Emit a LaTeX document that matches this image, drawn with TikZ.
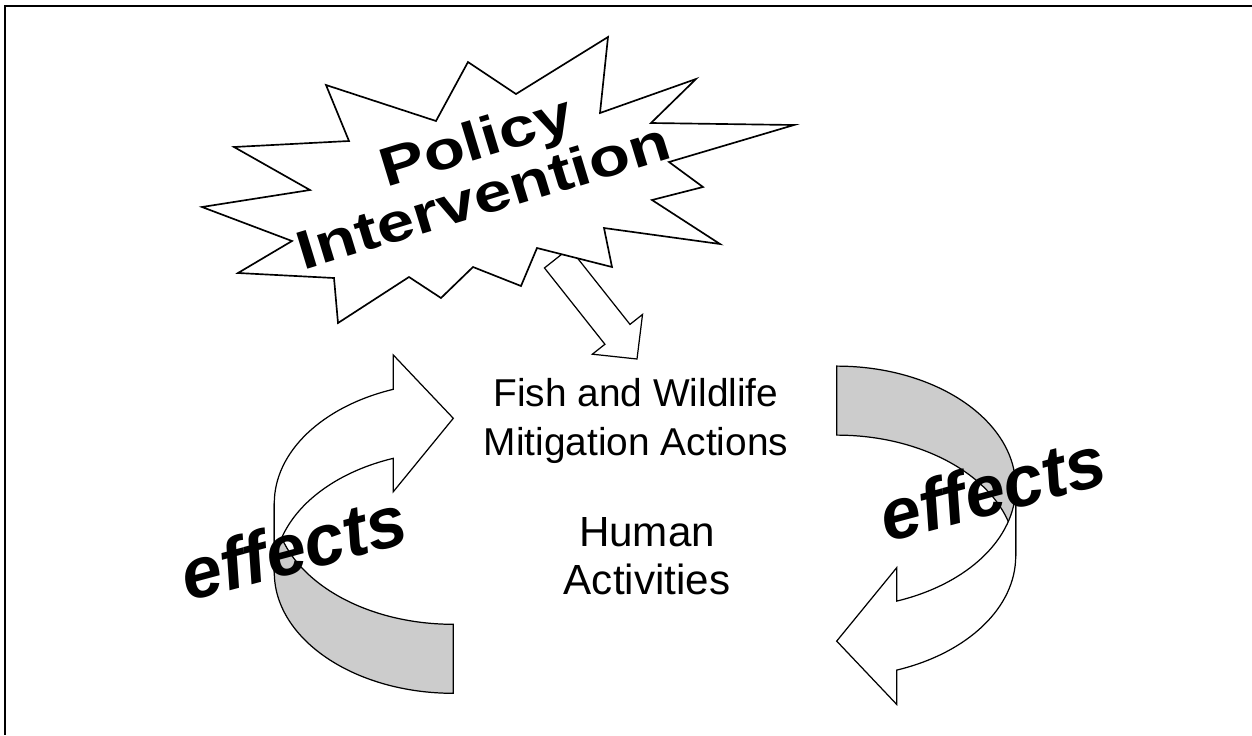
\documentclass[tikz,border=0pt]{standalone}
\usepackage{fontspec}
\setmainfont{Liberation Sans}
\usepackage{tikz}
\usetikzlibrary{calc}
\definecolor{PVBack}{HTML}{CCCCCC}
\definecolor{PVLine}{HTML}{000000}
\tikzset{
  pvFrame/.style={draw=PVLine, line width=1.1pt},
  pvBurst/.style={draw=PVLine, fill=white, line width=0.95pt, line join=miter},
  pvHollow/.style={draw=PVLine, fill=white, line width=0.7pt, line join=miter},
  pvBack/.style={draw=PVLine, fill=PVBack, line width=0.7pt},
  pvFront/.style={draw=PVLine, fill=white, line width=0.7pt, line join=miter},
  pvPolicy/.style={align=center, inner sep=0pt, font=\fontsize{31}{31.3}\selectfont\bfseries},
  pvLabel/.style={align=center, inner sep=0pt, font=\fontsize{#1}{27.4}\selectfont},
  pvLabel/.default=22.1,
  pvEffects/.style={anchor=base, inner sep=0pt, font=\fontsize{41}{43}\selectfont\bfseries\itshape},
  pvCurved/.pic={
    \draw[pvBack] (0,121) arc[start angle=90, end angle=180, x radius=179, y radius=121]
      -- (-179,69) arc[start angle=180, end angle=90, x radius=179, y radius=121] -- cycle;
    \draw[pvFront] (-60,-114) arc[start angle=250.42, end angle=180, x radius=179, y radius=121]
      -- (-179,69) arc[start angle=180, end angle=250.42, x radius=179, y radius=121]
      -- (-60,-11.6) -- (0,-85) -- (-60,-148.3) -- cycle;
  }
}

\begin{document}
\begin{tikzpicture}[x=0.02cm, y=-0.02cm]
  \useasboundingbox (0,0) rectangle (1252,735);
  \draw[pvFrame] (1252,6) -- (5,6) -- (5,735);

  \coordinate (arrtail) at (557,258);
  \coordinate (arrtip) at (637,359);
  \coordinate (arrhead) at ($(arrtip)!0.63cm!(arrtail)$);
  \draw[pvHollow] ($(arrtail)!0.32cm!90:(arrtip)$) -- ($(arrhead)!0.32cm!90:(arrtip)$)
    -- ($(arrhead)!0.64cm!90:(arrtip)$) -- (arrtip) -- ($(arrhead)!0.64cm!-90:(arrtip)$)
    -- ($(arrhead)!0.32cm!-90:(arrtip)$) -- ($(arrtail)!0.32cm!-90:(arrtip)$) -- cycle;

  \draw[pvBurst] (326,85) -- (436,121) -- (468,62) -- (516,94) -- (608,37) -- (600,113)
    -- (696,79) -- (651,123) -- (794,125) -- (669,162) -- (703,187) -- (652,200)
    -- (720,244) -- (604,228) -- (612,267) -- (537,248) -- (521,286) -- (473,267)
    -- (441,298) -- (409,277) -- (338,323) -- (334,278) -- (238,273) -- (292,241)
    -- (202,207) -- (310,190) -- (234,147) -- (349,141) -- cycle;
  \node[pvPolicy, rotate=17, xscale=1.24] (policy) at (475,169)
    {\hspace*{0.3cm}Policy\\Intervention};

  \node[pvLabel] (mitig) at (636,421) {Fish and Wildlife\\Mitigation Actions};
  \node[pvLabel=24] (human) at (647,556) {Human\\Activities};

  \pic (loopL) at (453.3,503.3) {pvCurved};
  \pic[rotate=180] (loopR) at (836.7,556.1) {pvCurved};

  \node[pvEffects, rotate=15] (effL) at (300,572) {effects};
  \node[pvEffects, rotate=15] (effR) at (999,513) {effects};
\end{tikzpicture}
\end{document}
